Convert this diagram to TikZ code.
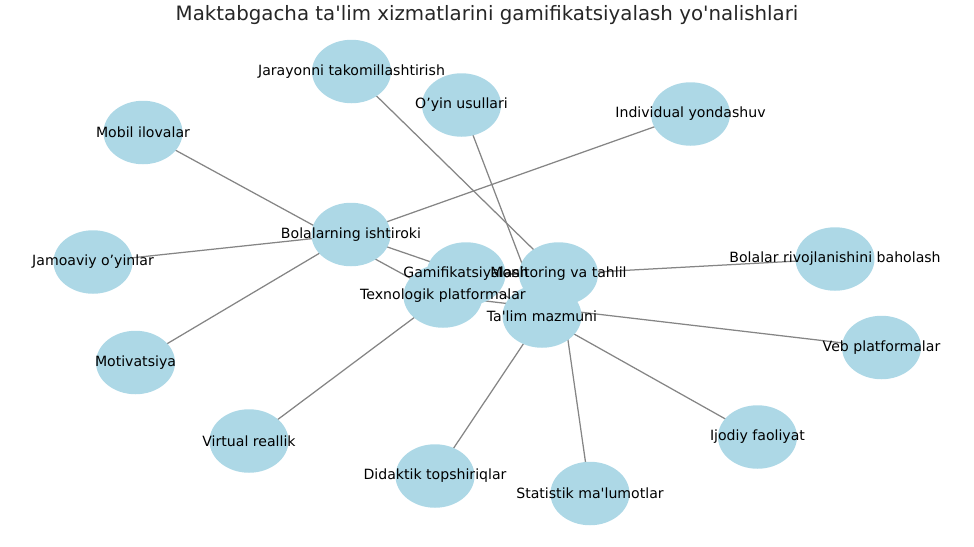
\documentclass[tikz,border=0pt]{standalone}
\usepackage{fontspec}
\setmainfont{DejaVu Sans}[Ligatures=TeXOff]
\usetikzlibrary{shapes.geometric,backgrounds}
\definecolor{bubble}{HTML}{ADD8E6}
\definecolor{edgegray}{HTML}{858585}
\tikzset{
  bub/.style={ellipse,fill=bubble,draw=none,inner sep=0pt,minimum width=79pt,minimum height=63.5pt},
  lbl/.style={inner sep=0pt,text=black,font=\fontsize{14.1}{16}\selectfont},
  edge/.style={draw=edgegray,line width=1.25pt},
  ttl/.style={inner sep=0pt,text=black!85,font=\fontsize{19.8}{22}\selectfont}
}
\begin{document}
\begin{tikzpicture}[x=1pt,y=-1pt]
\useasboundingbox (0,0) rectangle (974,546);
\node[ttl] (title) at (487,15.5) {Maktabgacha ta'lim xizmatlarini gamifikatsiyalash yo'nalishlari};
% nodes
\node[bub] (jar) at (351.5,71.5) {};
\node[bub] (oyin) at (461.5,105) {};
\node[bub] (ind) at (690.5,114) {};
\node[bub] (mob) at (143,132.5) {};
\node[bub] (bol) at (351,234.5) {};
\node[bub] (jam) at (93,262) {};
\node[bub] (bah) at (835,259) {};
\node[bub] (gam) at (466,274) {};
\node[bub] (mon) at (558.5,274) {};
\node[bub] (tex) at (443,296) {};
\node[bub] (tal) at (542,316) {};
\node[bub] (veb) at (881.5,347.5) {};
\node[bub] (mot) at (135.5,362.5) {};
\node[bub] (vir) at (249,441) {};
\node[bub] (ijo) at (757.5,437) {};
\node[bub] (did) at (435,476) {};
\node[bub] (sta) at (590,493.5) {};
% edges
\begin{scope}[on background layer]
\draw[edge] (gam.center) -- (bol.center);
\draw[edge] (gam.center) -- (tex.center);
\draw[edge] (gam.center) -- (tal.center);
\draw[edge] (gam.center) -- (mon.center);
\draw[edge] (bol.center) -- (jam.center);
\draw[edge] (bol.center) -- (mot.center);
\draw[edge] (bol.center) -- (ind.center);
\draw[edge] (tex.center) -- (mob.center);
\draw[edge] (tex.center) -- (vir.center);
\draw[edge] (tex.center) -- (veb.center);
\draw[edge] (tal.center) -- (oyin.center);
\draw[edge] (tal.center) -- (did.center);
\draw[edge] (tal.center) -- (ijo.center);
\draw[edge] (mon.center) -- (jar.center);
\draw[edge] (mon.center) -- (sta.center);
\draw[edge] (mon.center) -- (bah.center);
\end{scope}
% labels
\node[lbl] (jarL) at (jar) {Jarayonni takomillashtirish};
\node[lbl] (oyinL) at (oyin) {O’yin usullari};
\node[lbl] (indL) at (ind) {Individual yondashuv};
\node[lbl] (mobL) at (mob) {Mobil ilovalar};
\node[lbl] (bolL) at (bol) {Bolalarning ishtiroki};
\node[lbl] (jamL) at (jam) {Jamoaviy o’yinlar};
\node[lbl] (bahL) at (bah) {Bolalar rivojlanishini baholash};
\node[lbl] (gamL) at (gam) {Gamifikatsiyalash};
\node[lbl] (monL) at (mon) {Monitoring va tahlil};
\node[lbl] (texL) at (tex) {Texnologik platformalar};
\node[lbl] (talL) at (tal) {Ta'lim mazmuni};
\node[lbl] (vebL) at (veb) {Veb platformalar};
\node[lbl] (motL) at (mot) {Motivatsiya};
\node[lbl] (virL) at (vir) {Virtual reallik};
\node[lbl] (ijoL) at (ijo) {Ijodiy faoliyat};
\node[lbl] (didL) at (did) {Didaktik topshiriqlar};
\node[lbl] (staL) at (sta) {Statistik ma'lumotlar};
\end{tikzpicture}
\end{document}
